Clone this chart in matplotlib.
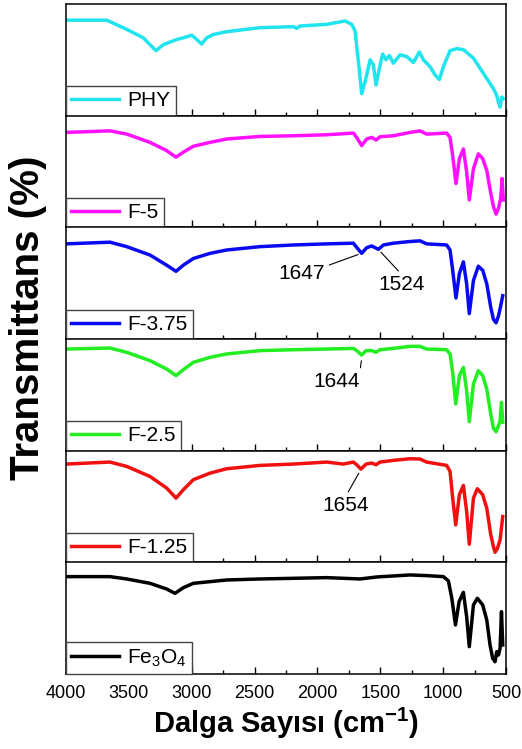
import matplotlib
matplotlib.use('Agg')
import matplotlib.pyplot as plt
from matplotlib.ticker import MultipleLocator

plt.rcParams['font.family'] = ['Liberation Sans', 'DejaVu Sans']
plt.rcParams['mathtext.fontset'] = 'custom'
plt.rcParams['mathtext.rm'] = 'Liberation Sans'
plt.rcParams['mathtext.bf'] = 'Liberation Sans:bold'
plt.rcParams['mathtext.default'] = 'regular'

# FTIR spectra: wavenumber (cm-1) and transmittance (% of panel height)
phy_w = [4000, 3676, 3517, 3385, 3284, 3226, 3120, 3067, 3000, 2960, 2921, 2881, 2828, 2722,
         2457, 2191, 2165, 2138, 1926, 1780, 1727, 1701, 1674, 1648, 1621, 1581, 1555, 1534,
         1507, 1481, 1454, 1428, 1396, 1343, 1290, 1237, 1189, 1157, 1104, 1064, 1030, 998,
         945, 892, 839, 759, 706, 653, 600, 574, 560, 547, 533, 521]
phy_t = [85.5, 85.5, 77.3, 69.7, 58.2, 63.6, 68.2, 69.7, 72.1, 68.2, 64.2, 69.7, 72.7, 75.2,
         78.8, 79.7, 78.2, 80.3, 81.8, 84.8, 81.8, 75.8, 48.5, 19.7, 30.3, 50.0, 45.5, 27.3,
         42.4, 55.2, 50.0, 53.9, 47.0, 54.5, 53.0, 47.6, 57.0, 50.0, 43.9, 36.4, 32.4, 43.9,
         58.2, 60.0, 59.1, 51.5, 42.4, 33.3, 24.2, 18.2, 12.1, 7.6, 16.7, 15.2]

f5_w = [4000, 3650, 3517, 3332, 3199, 3125, 3067, 2987, 2854, 2722, 2457, 2191, 1926, 1714,
        1688, 1648, 1608, 1568, 1534, 1502, 1396, 1263, 1184, 1131, 972, 945, 924, 898, 871,
        839, 813, 792, 759, 720, 685, 653, 621, 600, 579, 560, 542, 531, 521]
f5_t = [85.0, 86.4, 83.5, 76.1, 68.7, 62.8, 67.3, 72.6, 76.1, 79.1, 81.4, 82.0, 82.9, 84.4,
        80.5, 73.2, 79.1, 80.5, 78.2, 81.1, 82.0, 85.0, 86.4, 83.5, 84.4, 80.5, 64.3, 39.2, 61.4,
        70.2, 49.6, 24.5, 52.5, 65.8, 61.4, 51.0, 30.4, 18.6, 11.8, 17.1, 26.0, 43.7, 24.5]

f375_w = [4000, 3650, 3517, 3332, 3199, 3125, 3067, 2987, 2854, 2722, 2457, 2191, 1926, 1714,
          1688, 1648, 1608, 1568, 1515, 1475, 1396, 1263, 1184, 1131, 972, 945, 924, 898, 871,
          839, 813, 792, 759, 720, 685, 653, 621, 600, 579, 560, 542, 526]
f375_t = [85.2, 86.7, 82.7, 75.2, 66.1, 60.6, 66.1, 72.1, 76.7, 79.7, 82.7, 84.2, 85.2, 85.8,
          82.1, 76.7, 81.8, 83.3, 80.3, 84.2, 85.8, 87.3, 87.9, 85.2, 84.2, 79.7, 61.5, 36.7, 58.5,
          69.1, 49.4, 22.7, 52.4, 65.2, 61.5, 49.4, 28.2, 17.6, 14.5, 20.6, 29.7, 38.8]

f25_w = [4000, 3650, 3517, 3332, 3199, 3125, 3067, 2987, 2854, 2722, 2457, 2191, 1926, 1714,
         1688, 1648, 1613, 1568, 1534, 1502, 1396, 1263, 1184, 1131, 972, 945, 924, 900, 871,
         839, 813, 792, 759, 720, 685, 653, 621, 600, 579, 560, 547, 536, 526]
f25_t = [91.0, 91.9, 88.1, 80.6, 73.1, 67.2, 72.5, 79.1, 83.6, 86.6, 89.6, 90.4, 91.0, 91.6,
         89.6, 85.7, 89.6, 89.6, 88.1, 90.4, 91.6, 93.4, 93.4, 91.0, 90.4, 86.6, 70.1, 41.8, 67.2,
         74.6, 53.7, 26.0, 59.7, 71.6, 67.2, 55.2, 32.8, 20.0, 17.0, 22.4, 26.9, 43.3, 25.4]

f125_w = [4000, 3650, 3517, 3332, 3199, 3125, 3067, 2987, 2854, 2722, 2457, 2191, 1926, 1794,
          1714, 1688, 1654, 1613, 1568, 1534, 1502, 1396, 1263, 1184, 1131, 972, 945, 924, 900,
          871, 839, 813, 792, 759, 728, 685, 653, 621, 600, 587, 568, 547, 526]
f125_t = [88.0, 89.8, 85.9, 76.9, 66.5, 57.5, 65.0, 74.0, 79.9, 83.8, 86.8, 88.0, 89.8, 88.0,
          89.8, 87.4, 83.5, 88.0, 88.9, 87.4, 89.8, 91.3, 92.8, 92.5, 89.8, 86.8, 81.4, 57.5, 33.5,
          60.5, 68.9, 45.5, 16.2, 57.5, 65.9, 60.5, 48.5, 24.6, 14.1, 9.0, 12.6, 20.1, 41.0]

fe_w = [4000, 3650, 3517, 3332, 3199, 3133, 3067, 2987, 2722, 2457, 2191, 1926, 1661, 1528,
        1263, 1131, 998, 958, 931, 902, 873, 839, 813, 792, 759, 728, 685, 653, 627, 606, 587,
        574, 560, 547, 536, 526]
fe_t = [87.2, 87.2, 85.1, 81.2, 76.1, 72.2, 77.3, 81.2, 84.2, 85.1, 85.7, 86.3, 85.1, 86.9,
        88.7, 88.1, 87.2, 83.3, 67.8, 43.9, 64.8, 73.1, 51.3, 24.5, 61.8, 67.8, 61.8, 48.4, 26.0,
        14.0, 11.0, 20.0, 17.0, 23.0, 55.8, 26.0]

names = ['PHY', 'F-5', 'F-3.75', 'F-2.5', 'F-1.25', 'Fe$_3$O$_4$']
colors = ['#22E4EE', '#FF10FF', '#0A0AF0', '#22EE22', '#F01010', '#000000']
waves = [phy_w, f5_w, f375_w, f25_w, f125_w, fe_w]
trans = [phy_t, f5_t, f375_t, f25_t, f125_t, fe_t]

# peak labels: (panel, text, peak wavenumber, peak T, text x, text y, arrow start rel. to text)
peaks = [
    (2, '1647', 1655, 76.5, 2123, 59, (1.0, 0.85)),
    (2, '1524', 1510, 79.5, 1327, 49, (0.5, 1.0)),
    (3, '1644', 1648, 83.0, 1847, 62, (1.0, 1.0)),
    (4, '1654', 1660, 82.0, 1773, 51, (0.5, 1.0)),
]

fig = plt.figure(figsize=(5.22, 7.49), dpi=100)
left, right, top, bottom = 66 / 522, 506 / 522, 1 - 4 / 749, 1 - 674 / 749
h = (top - bottom) / 6

axes = []
for i in range(6):
    ax = fig.add_axes([left, top - (i + 1) * h, right - left, h])
    ax.plot(waves[i], trans[i], color=colors[i], lw=2.5, label=names[i])
    ax.set_xlim(4000, 500)
    ax.set_ylim(0, 100)
    ax.xaxis.set_major_locator(MultipleLocator(500))
    ax.xaxis.set_minor_locator(MultipleLocator(250))
    ax.tick_params(axis='x', which='major', direction='in', length=5, width=1, pad=8,
                   labelsize=13, labelbottom=(i == 5))
    ax.tick_params(axis='x', which='minor', direction='in', length=3, width=1)
    ax.tick_params(axis='y', left=False, labelleft=False)
    for sp in ax.spines.values():
        sp.set_linewidth(1.1)
    leg = ax.legend(loc='lower left', borderaxespad=0, fontsize=15, handlelength=2.3,
                    handletextpad=0.4, borderpad=0.25, fancybox=False, framealpha=1)
    leg.get_frame().set_edgecolor('#444444')
    leg.get_frame().set_linewidth(1.0)
    axes.append(ax)

for p, txt, pw, pt, tx, ty, rp in peaks:
    axes[p].annotate(txt, xy=(pw, pt), xytext=(tx, ty), textcoords='data',
                     ha='center', va='center', fontsize=15,
                     arrowprops=dict(arrowstyle='-', lw=0.8, color='black', relpos=rp,
                                     shrinkA=1, shrinkB=2))

axes[5].set_xlabel(r'Dalga Sayısı (cm$^{\mathbf{-1}}$)', fontsize=21, fontweight='bold',
                   labelpad=3)
fig.text(28 / 522, 1 - 318 / 749, 'Transmittans (%)', rotation=90, ha='center', va='center',
         fontsize=29, fontweight='bold')

fig.savefig('out.png', dpi=100)
